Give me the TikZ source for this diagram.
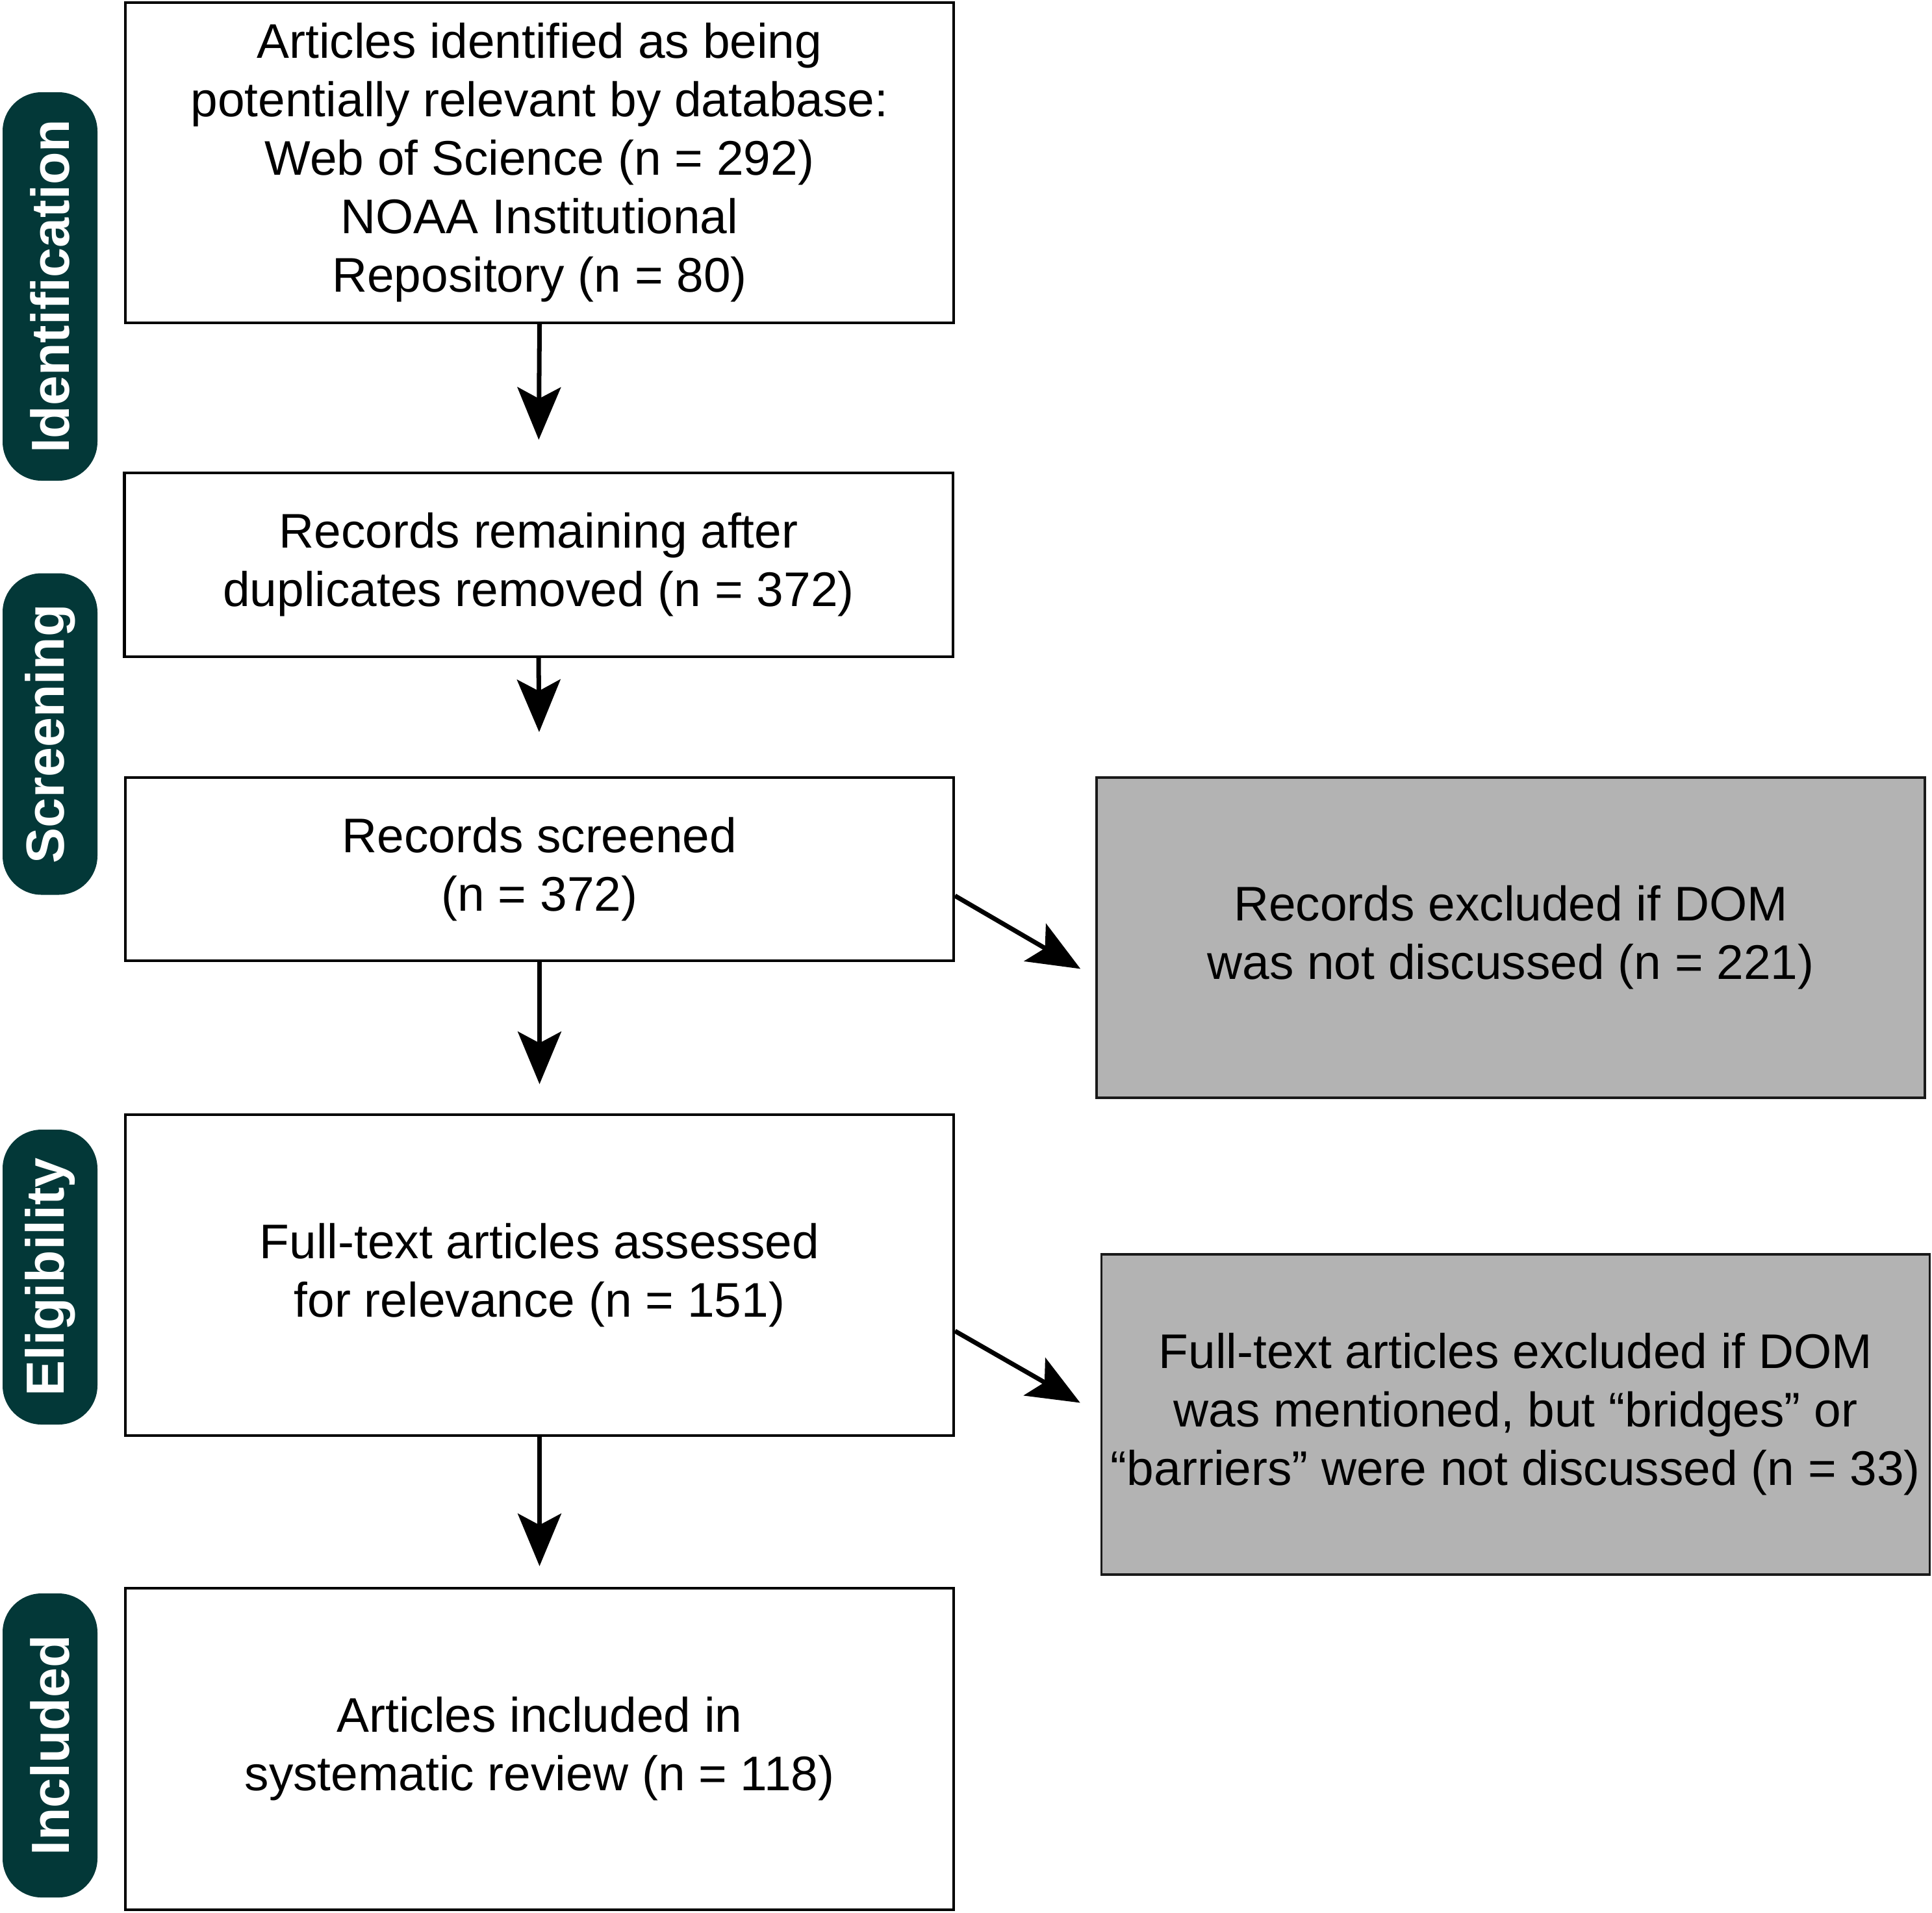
\documentclass[tikz,border=0pt]{standalone}
\usepackage{fontspec}
\setmainfont{Liberation Sans}
\usetikzlibrary{arrows.meta,positioning}
\definecolor{stagegreen}{RGB}{3,56,56}
\definecolor{exclgray}{RGB}{179,179,179}

\begin{document}
\begin{tikzpicture}[
    box/.style={draw, line width=1.15pt, minimum width=12.75cm, align=center, inner sep=0pt,
        font=\fontsize{21.3}{25.6}\selectfont},
    exbox/.style={box, fill=exclgray, draw=black!90, line width=1pt},
    stage/.style={fill=stagegreen, text=white, rounded corners=0.6cm, rotate=90,
        minimum height=1.46cm, inner sep=0pt, font=\fontsize{23.5}{28}\selectfont\bfseries},
    flow/.style={-{Stealth[length=23pt,width=19pt,inset=5pt]}, line width=2pt}
]
    \useasboundingbox (0,0) rectangle (29.74,-29.44);
    % Stage labels
    \node[stage, minimum width=5.98cm] (sid) at (0.77,-4.41) {Identification};
    \node[stage, minimum width=4.95cm] (sscr) at (0.77,-11.30) {Screening};
    \node[stage, minimum width=4.54cm] (selg) at (0.77,-19.66) {Eligibility};
    \node[stage, minimum width=4.68cm] (sinc) at (0.77,-26.87) {Included};
    % Main boxes
    \node[box, minimum height=4.93cm] (ident) at (8.305,-2.505)
        {Articles identified as being\\potentially relevant by database:\\Web of Science (n = 292)\\NOAA Institutional\\Repository (n = 80)};
    \node[box, minimum height=2.83cm] (remain) at (8.29,-8.695)
        {Records remaining after\\duplicates removed (n = 372)};
    \node[box, minimum height=2.82cm] (screen) at (8.305,-13.38)
        {Records screened\\(n = 372)};
    \node[box, minimum height=4.94cm] (full) at (8.305,-19.63)
        {Full-text articles assessed\\for relevance (n = 151)};
    \node[box, minimum height=4.95cm] (incl) at (8.305,-26.925)
        {Articles included in\\systematic review (n = 118)};
    % Exclusion boxes
    \node[exbox, minimum height=4.93cm] (excl1) at (23.255,-14.435)
        {Records excluded if DOM\\was not discussed (n = 221)};
    \node[exbox, minimum height=4.93cm] (excl2) at (23.33,-21.775)
        {Full-text articles excluded if DOM\\was mentioned, but “bridges” or\\“barriers” were not discussed (n = 33)};
    % Arrows
    \draw[flow, shorten >=0.49cm] (ident.south) -- (remain.north);
    \draw[flow, shorten >=0.68cm] (remain.south) -- (screen.north);
    \draw[flow, shorten >=0.45cm] (screen.south) -- (full.north);
    \draw[flow, shorten >=0.32cm] (full.south) -- (incl.north);
    \draw[flow] ([yshift=-0.41cm]screen.east) -- ([xshift=-0.23cm,yshift=-0.48cm]excl1.west);
    \draw[flow] ([yshift=-0.86cm]full.east) -- ([xshift=-0.31cm,yshift=0.18cm]excl2.west);
\end{tikzpicture}
\end{document}
